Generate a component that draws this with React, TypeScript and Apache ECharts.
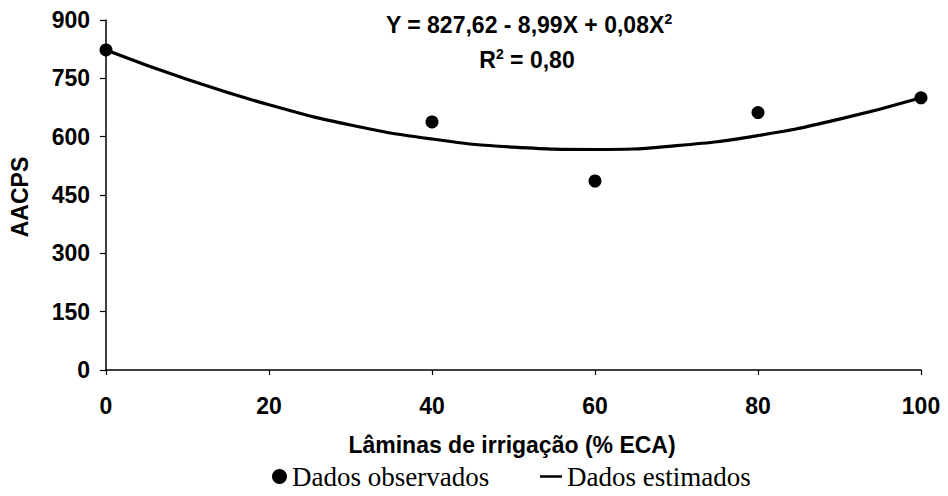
import React, { useEffect, useRef } from "react";
import * as echarts from "echarts";

const observedX = [0, 40, 60, 80, 100];
const observedY = [823, 638, 486, 662, 700];

const estimatedX = [0, 10, 20, 30, 40, 50, 60, 70, 80, 90, 100];
const estimatedY = [823, 747, 682, 630, 594, 573, 567, 577, 603, 645, 700];

const equationText = "Y = 827,62 - 8,99X + 0,08X";
const r2Text = " = 0,80";
const xAxisTitle = "Lâminas de irrigação (% ECA)";
const yAxisTitle = "AACPS";

const SANS = "'Liberation Sans', Arial, sans-serif";
const SERIF = "'Liberation Serif', 'Times New Roman', serif";

export default function App() {
  const ref = useRef<HTMLDivElement>(null);
  useEffect(() => {
    document.body.style.margin = "0";
    if (!ref.current) return;
    const chart = echarts.init(ref.current, undefined, { renderer: "svg" });
    const supRich = {
      a: { fontFamily: SANS, fontWeight: "bold", fontSize: 23, lineHeight: 26, fill: "#000" },
      s: { fontFamily: SANS, fontWeight: "bold", fontSize: 14, verticalAlign: "top", lineHeight: 26, padding: [0, 0, 12, 0], fill: "#000" },
    };
    const option: any = {
      animation: false,
      backgroundColor: "#ffffff",
      grid: { left: 106, right: 27, top: 20, bottom: 126, containLabel: false },
      xAxis: {
        type: "value",
        min: 0,
        max: 100,
        interval: 20,
        axisLine: { show: true, lineStyle: { color: "#000", width: 1.5 } },
        axisTick: { show: true, length: 5, lineStyle: { color: "#000", width: 1.2 } },
        splitLine: { show: false },
        axisLabel: { color: "#000", fontFamily: SANS, fontWeight: "bold", fontSize: 23, margin: 24 },
      },
      yAxis: {
        type: "value",
        min: 0,
        max: 900,
        interval: 150,
        axisLine: { show: true, lineStyle: { color: "#000", width: 1.5 } },
        axisTick: { show: true, length: 6, lineStyle: { color: "#000", width: 1.2 } },
        splitLine: { show: false },
        axisLabel: { color: "#000", fontFamily: SANS, fontWeight: "bold", fontSize: 23, margin: 16 },
      },
      legend: [
        {
          data: [{ name: "Dados observados", icon: "circle" }],
          left: 272,
          top: 463,
          padding: 0,
          itemWidth: 15,
          itemHeight: 15,
          textStyle: { color: "#000", fontFamily: SERIF, fontSize: 27 },
          selectedMode: false,
        },
        {
          data: [{ name: "Dados estimados", icon: "rect" }],
          left: 540,
          top: 463,
          padding: 0,
          itemWidth: 22,
          itemHeight: 2.5,
          textStyle: { color: "#000", fontFamily: SERIF, fontSize: 27 },
          selectedMode: false,
        },
      ],
      graphic: [
        {
          type: "text",
          x: 529,
          y: 25,
          style: {
            text: "{a|" + equationText + "}{s|2}",
            align: "center",
            verticalAlign: "middle",
            textAlign: "center",
            textVerticalAlign: "middle",
            fill: "#000",
            rich: supRich,
          },
        },
        {
          type: "text",
          x: 527,
          y: 60,
          style: {
            text: "{a|R}{s|2}{a|" + r2Text + "}",
            align: "center",
            verticalAlign: "middle",
            textAlign: "center",
            textVerticalAlign: "middle",
            fill: "#000",
            rich: supRich,
          },
        },
        {
          type: "text",
          x: 512,
          y: 445,
          style: {
            text: xAxisTitle,
            align: "center",
            verticalAlign: "middle",
            textAlign: "center",
            textVerticalAlign: "middle",
            fill: "#000",
            fontFamily: SANS,
            fontWeight: "bold",
            fontSize: 23,
          },
        },
        {
          type: "text",
          x: 20,
          y: 197,
          rotation: Math.PI / 2,
          style: {
            text: yAxisTitle,
            align: "center",
            verticalAlign: "middle",
            textAlign: "center",
            textVerticalAlign: "middle",
            fill: "#000",
            fontFamily: SANS,
            fontWeight: "bold",
            fontSize: 23,
          },
        },
      ],
      series: [
        {
          name: "Dados estimados",
          type: "line",
          smooth: true,
          showSymbol: false,
          symbol: "none",
          data: estimatedX.map((x, i) => [x, estimatedY[i]]),
          lineStyle: { color: "#000", width: 3.2 },
          itemStyle: { color: "#000" },
          z: 2,
        },
        {
          name: "Dados observados",
          type: "scatter",
          symbol: "circle",
          symbolSize: 13,
          data: observedX.map((x, i) => [x, observedY[i]]),
          itemStyle: { color: "#000", opacity: 1 },
          z: 3,
        },
      ],
    };
    chart.setOption(option);
    return () => chart.dispose();
  }, []);
  return <div ref={ref} style={{ width: 948, height: 496 }} />;
}
